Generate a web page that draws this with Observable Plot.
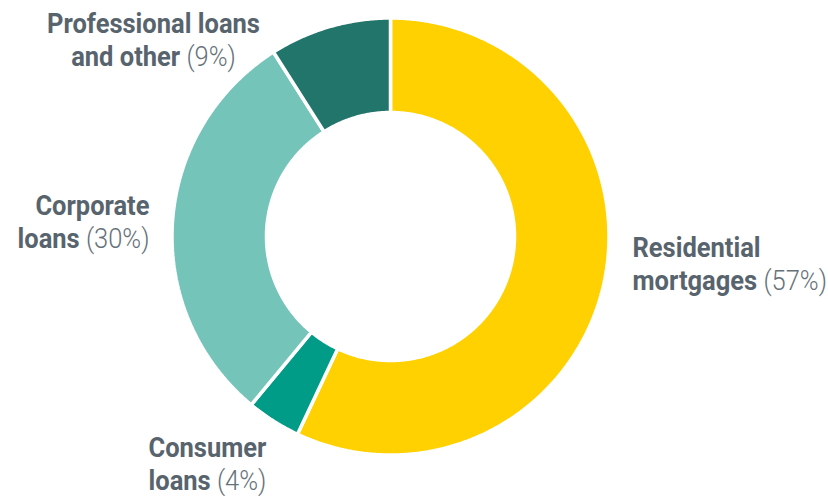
<!DOCTYPE html>
<html>
<head>
<meta charset="utf-8">
<script src="https://cdn.jsdelivr.net/npm/d3@7"></script>
<script src="https://cdn.jsdelivr.net/npm/@observablehq/plot@0.6"></script>
<style>
  html, body { margin: 0; padding: 0; background: #fff; overflow: hidden; }
  #chart svg { display: block; }
  .lbl text { font-family: Roboto, "Liberation Sans", sans-serif; }
</style>
</head>
<body>
<div id="chart"></div>
<script>
// ---- data ----
const categories = ["Residential mortgages", "Consumer loans", "Corporate loans", "Professional loans and other"];
const shares = [57, 4, 30, 9];
const labelLine1 = ["Residential", "Consumer", "Corporate", "Professional loans"];
const labelLine2 = ["mortgages", "loans", "loans", "and other"];
const colors = ["#FFD100", "#009C87", "#74C4BA", "#22756B"];

// ---- layout (not data) ----
const W = 828, H = 496;
const cx = 390, cy = 236, rOuter = 218.5, rInner = 124;
const labelLayout = {
  "Residential mortgages": {x: 632, y: 256, anchor: "start"},
  "Consumer loans": {x: 148, y: 456, anchor: "start"},
  "Corporate loans": {x: 149, y: 214, anchor: "end"},
  "Professional loans and other": {x: 153, y: 32, anchor: "middle"}
};
const lineGap = 33.5;
const targetWidthProfessional = 213; // width of "Professional loans" in reference

// ---- build donut polygons from the shares ----
const arcs = d3.pie().sort(null).value(d => d)(shares);
const pts = [];
arcs.forEach((a, i) => {
  const cat = categories[i];
  const n = Math.max(8, Math.ceil((a.endAngle - a.startAngle) / 0.008));
  for (let k = 0; k <= n; k++) {
    const t = a.startAngle + (a.endAngle - a.startAngle) * k / n;
    pts.push({cat, x: cx + rOuter * Math.sin(t), y: cy - rOuter * Math.cos(t)});
  }
  for (let k = n; k >= 0; k--) {
    const t = a.startAngle + (a.endAngle - a.startAngle) * k / n;
    pts.push({cat, x: cx + rInner * Math.sin(t), y: cy - rInner * Math.cos(t)});
  }
  pts.push({cat, x: cx + rOuter * Math.sin(a.startAngle), y: cy - rOuter * Math.cos(a.startAngle)});
});

const labelRows = categories.map((c, i) => ({
  cat: c,
  l1: labelLine1[i],
  l2: labelLine2[i] + " (" + shares[i] + "%)",
  ...labelLayout[c]
}));

const textMarks = [];
labelRows.forEach(r => {
  textMarks.push(Plot.text([r], {
    x: "x", y: "y", text: "l1", textAnchor: r.anchor, lineAnchor: "bottom",
    fontSize: 28, fontWeight: 700, fill: "#58646D", className: "lbl"
  }));
  textMarks.push(Plot.text([r], {
    x: "x", y: d => d.y + lineGap, text: "l2", textAnchor: r.anchor, lineAnchor: "bottom",
    fontSize: 28, fontWeight: 700, fill: "#58646D", className: "lbl lbl2"
  }));
});

const chart = Plot.plot({
  width: W, height: H,
  margin: 0,
  x: {domain: [0, W], range: [0, W], axis: null},
  y: {domain: [0, H], range: [0, H], axis: null},
  color: {domain: categories, range: colors},
  marks: [
    Plot.line(pts, {x: "x", y: "y", z: "cat", fill: "cat", stroke: "white", strokeWidth: 3.5, strokeLinejoin: "miter", curve: "linear"}),
    ...textMarks
  ]
});
document.getElementById("chart").appendChild(chart);

// split second label line into bold words + lighter percentage
const ns = "http://www.w3.org/2000/svg";
chart.querySelectorAll(".lbl2 text").forEach(t => {
  const s = t.textContent;
  const idx = s.lastIndexOf(" (");
  if (idx < 0) return;
  t.textContent = "";
  const a = document.createElementNS(ns, "tspan");
  a.textContent = s.slice(0, idx);
  const b = document.createElementNS(ns, "tspan");
  b.textContent = s.slice(idx);
  b.setAttribute("font-weight", "300");
  b.setAttribute("fill", "#66727A");
  t.appendChild(a); t.appendChild(b);
});

// condense the labels horizontally (reference uses a condensed typeface)
let sx = 0.85;
chart.querySelectorAll(".lbl text").forEach(t => {
  if (t.textContent === "Professional loans") {
    const w = t.getComputedTextLength();
    if (w > 0) sx = targetWidthProfessional / w;
  }
});
chart.querySelectorAll(".lbl text").forEach(t => {
  let tr = t.getAttribute("transform");
  if (!tr) {
    const x = +t.getAttribute("x") || 0, y = +t.getAttribute("y") || 0;
    t.removeAttribute("x"); t.removeAttribute("y");
    tr = `translate(${x},${y})`;
  }
  t.setAttribute("transform", tr + ` scale(${sx},1)`);
});
</script>
</body>
</html>
